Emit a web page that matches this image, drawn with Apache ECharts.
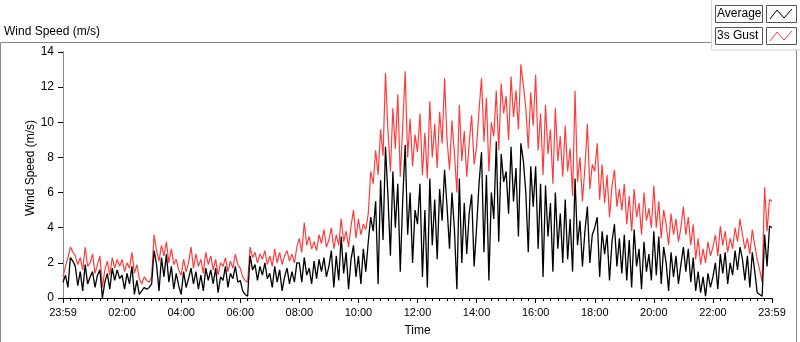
<!DOCTYPE html>
<html>
<head>
<meta charset="utf-8">
<script src="https://cdn.jsdelivr.net/npm/echarts@6/dist/echarts.min.js"></script>
<style>
html, body { margin: 0; padding: 0; background: #fff; }
#main { width: 800px; height: 342px; }
</style>
</head>
<body>
<div id="main"></div>
<script type="text/javascript">
	// minutes between two samples, x runs from 0 (23:59) to 1440 (23:59)
	var timeStep = 5;
	var tickLabels = [ '23:59', '02:00', '04:00', '06:00', '08:00', '10:00', '12:00',
			'14:00', '16:00', '18:00', '20:00', '22:00', '23:59' ];

	// 3s gust, one row per hour
	var gust = [
		1.2, 1.8, 2.3, 2.9, 2.6, 2.4, 1.9, 2.3, 1.6, 2.9, 1.8, 2.0,
		2.5, 1.4, 1.9, 2.4, 0.6, 1.6, 2.1, 1.3, 2.3, 1.7, 2.2, 1.8,
		2.2, 1.5, 2.0, 1.7, 2.6, 1.4, 1.9, 1.1, 0.8, 1.2, 1.0, 0.9,
		1.2, 3.6, 2.7, 2.1, 3.0, 2.4, 3.2, 2.0, 2.8, 1.9, 2.2, 1.6,
		1.3, 2.2, 1.5, 2.0, 2.9, 1.7, 2.5, 1.8, 2.2, 1.4, 2.6, 1.9,
		2.4, 1.6, 2.2, 1.3, 2.0, 1.8, 2.3, 1.5, 2.1, 1.7, 2.5, 1.9,
		1.7, 1.2, 1.0, 0.9, 2.9, 2.3, 2.6, 2.0, 2.5, 2.2, 2.7, 1.9,
		2.4, 1.8, 2.8, 2.0, 2.6, 1.9, 2.4, 2.7, 2.1, 2.5, 2.0, 2.9,
		3.4, 2.6, 4.3, 3.0, 3.5, 2.8, 3.2, 2.7, 3.6, 3.1, 3.9, 2.9,
		3.3, 4.0, 2.8, 3.6, 3.0, 4.5, 3.2, 3.8, 2.9, 4.1, 5.0, 3.4,
		4.5, 3.6, 4.2, 3.9, 4.8, 7.2, 6.5, 8.4, 7.0, 9.6, 8.1, 12.8,
		9.5, 7.2, 10.8, 8.5, 11.6, 6.9, 9.8, 12.9, 8.0, 10.2, 7.5, 9.3,
		8.3, 10.5, 7.0, 9.4, 6.8, 11.2, 8.0, 9.9, 7.4, 10.6, 8.8, 12.5,
		9.0, 7.3, 10.1, 8.2, 6.0, 11.0, 7.8, 9.5, 6.9, 8.8, 10.4, 7.6,
		8.6, 10.7, 12.5, 8.9, 11.4, 7.2, 10.0, 9.2, 11.8, 8.4, 12.2, 10.5,
		11.5, 9.0, 12.6, 10.3, 11.8, 9.6, 13.3, 12.1, 10.8, 8.5, 11.7, 9.8,
		12.7, 8.4, 10.5, 7.0, 11.0, 8.2, 9.6, 6.5, 10.8, 7.8, 9.2, 6.9,
		9.8, 7.2, 8.5, 5.8, 11.8, 6.6, 8.0, 5.5, 7.4, 9.9, 6.2, 7.6,
		7.2, 8.8, 5.6, 7.6, 5.4, 7.0, 4.6, 6.4, 7.3, 5.2, 6.2, 5.0,
		6.5, 4.2, 5.8, 3.8, 6.2, 4.6, 5.4, 3.6, 6.0, 4.4, 5.1, 4.0,
		6.4, 4.0, 5.5, 3.4, 5.0, 4.2, 3.0, 4.8, 3.6, 4.5, 3.2, 4.0,
		5.2, 3.6, 4.6, 3.0, 4.2, 2.2, 3.4, 1.9, 2.8, 2.0, 3.2, 2.4,
		2.9, 3.6, 2.4, 4.1, 3.0, 3.8, 2.6, 3.4, 2.8, 4.0, 3.2, 4.5,
		3.6, 2.8, 3.4, 2.5, 3.9, 3.0, 2.2, 1.6, 0.9, 6.3, 3.8, 5.6,
		5.5
	];

	// average, one row per hour
	var average = [
		0.9, 1.3, 0.6, 2.3, 2.1, 1.8, 0.7, 1.5, 0.4, 1.9, 0.8, 1.2,
		1.5, 0.6, 1.3, 1.6, 0.0, 0.9, 1.4, 0.5, 1.7, 1.0, 1.6, 1.1,
		1.3, 0.5, 1.4, 0.8, 1.8, 0.2, 1.0, 0.2, 0.4, 0.6, 0.5, 0.6,
		0.8, 2.7, 1.9, 0.4, 2.3, 1.2, 2.5, 0.9, 1.8, 0.5, 1.4, 0.7,
		0.2, 1.5, 0.6, 1.1, 1.7, 0.8, 1.5, 0.5, 1.3, 0.4, 1.7, 1.0,
		1.6, 0.8, 1.7, 0.3, 1.2, 1.0, 1.8, 0.6, 1.4, 1.1, 1.8, 0.9,
		1.0, 0.4, 0.2, 0.1, 2.4, 1.6, 1.9, 1.0, 1.8, 1.3, 2.0, 1.1,
		1.4, 0.6, 1.8, 0.9, 1.6, 0.4, 1.2, 1.7, 0.8, 1.5, 0.9, 2.0,
		2.0, 0.9, 2.3, 1.3, 1.7, 0.8, 2.1, 1.1, 2.2, 1.5, 2.3, 1.2,
		1.8, 2.7, 0.6, 2.4, 1.0, 3.5, 1.4, 2.6, 0.5, 2.2, 3.0, 1.2,
		2.4, 0.8, 2.8, 1.5, 3.2, 4.6, 3.8, 5.5, 0.8, 6.7, 3.3, 8.6,
		5.8, 2.4, 7.2, 4.0, 6.5, 1.5, 5.6, 8.7, 3.6, 6.0, 2.0, 5.0,
		4.2, 6.5, 1.2, 5.0, 0.6, 6.8, 3.0, 5.6, 2.2, 6.2, 4.4, 7.3,
		5.2, 2.8, 6.0, 3.9, 0.5, 6.8, 2.0, 5.4, 2.5, 4.8, 5.9, 1.8,
		4.0, 6.5, 8.3, 2.6, 7.0, 1.0, 6.0, 4.5, 8.9, 3.2, 8.2, 6.6,
		7.2, 4.8, 8.6, 5.5, 7.4, 3.5, 8.8, 7.8, 6.0, 2.6, 7.5, 5.2,
		7.5, 2.8, 6.5, 1.2, 6.4, 3.5, 5.4, 1.5, 6.0, 2.8, 4.8, 2.0,
		5.6, 2.2, 4.5, 1.5, 6.8, 3.0, 4.4, 1.8, 3.8, 5.2, 2.0, 3.6,
		4.0, 4.6, 1.2, 3.8, 2.5, 3.6, 1.0, 3.2, 4.2, 1.8, 3.4, 1.4,
		3.6, 1.0, 3.3, 0.6, 3.9, 1.8, 2.8, 0.5, 3.2, 1.5, 2.5, 1.0,
		3.8, 1.3, 3.5, 0.8, 2.9, 2.0, 0.4, 2.6, 1.2, 2.4, 0.8, 1.9,
		2.9, 1.5, 2.8, 0.9, 2.3, 0.4, 1.5, 0.3, 1.2, 0.1, 1.4, 0.6,
		1.2, 2.0, 0.5, 2.5, 1.4, 2.6, 0.8, 2.0, 1.3, 2.7, 1.6, 2.9,
		2.2, 1.0, 2.4, 0.6, 2.6, 1.5, 0.3, 0.2, 0.1, 3.6, 1.8, 4.1,
		4.0
	];

	function toPairs(values) {
		var out = [];
		for (var i = 0; i < values.length; i++) {
			out.push([ i * timeStep, values[i] ]);
		}
		return out;
	}

	var font = 'Liberation Sans, Arial, sans-serif';
	var L = 63, R = 772, T = 52, B = 302;

	// legend box in the top right corner (LabVIEW style)
	function legendItem(y, label, color) {
		return [ {
			type : 'rect',
			shape : { x : 715.5, y : y + 0.5, width : 47, height : 17 },
			style : { fill : '#fff', stroke : '#555', lineWidth : 1 }
		}, {
			type : 'text',
			x : 717, y : y + 9,
			style : { text : label, font : '12px ' + font, fill : '#000', verticalAlign : 'middle' }
		}, {
			type : 'rect',
			shape : { x : 766.5, y : y + 0.5, width : 30, height : 17 },
			style : { fill : '#fff', stroke : '#555', lineWidth : 1 }
		}, {
			type : 'polyline',
			shape : { points : [ [ 770, y + 14 ], [ 777, y + 5 ], [ 784, y + 13 ], [ 792, y + 4 ] ] },
			style : { stroke : color, lineWidth : 1, fill : null }
		} ];
	}

	var graphics = [ {
		type : 'rect',
		shape : { x : 0.5, y : 42.5, width : 796, height : 310 },
		style : { fill : null, stroke : '#888', lineWidth : 1 },
		z : 1
	}, {
		type : 'rect',
		shape : { x : 711.5, y : -1, width : 90, height : 51 },
		style : { fill : '#fff', stroke : '#d4d4d4', lineWidth : 1 },
		z : 2
	}, {
		type : 'text',
		x : 4, y : 32,
		style : { text : 'Wind Speed (m/s)', font : '12px ' + font, fill : '#000', verticalAlign : 'middle' }
	}, {
		type : 'text',
		x : 31, y : 168,
		rotation : Math.PI / 2,
		style : { text : 'Wind Speed (m/s)', font : '12px ' + font, fill : '#000', align : 'center', verticalAlign : 'middle' }
	} ].concat(legendItem(5, 'Average', '#000'), legendItem(27, '3s Gust', '#ff3c3c'));
	graphics.forEach(function(g) { if (g.z == null) g.z = 3; });

	var option = {
		animation : false,
		grid : { left : L, right : 800 - R, top : T, bottom : 342 - B },
		graphic : graphics,
		xAxis : [ {
			type : 'value',
			min : 0, max : 1440, interval : 120,
			name : 'Time',
			nameLocation : 'middle',
			nameGap : 27,
			nameTextStyle : { fontFamily : font, fontSize : 12, color : '#000' },
			axisLine : { lineStyle : { color : '#999', width : 1 } },
			axisTick : { length : 5, lineStyle : { color : '#000' } },
			minorTick : { show : true, splitNumber : 8, length : 3, lineStyle : { color : '#000' } },
			axisLabel : {
				margin : 9,
				fontFamily : font, fontSize : 11, color : '#000',
				showMinLabel : true, showMaxLabel : true,
				formatter : function(v) { return tickLabels[Math.round(v / 120)]; }
			},
			splitLine : { show : false }
		}, {
			type : 'value', position : 'top',
			min : 0, max : 1440,
			axisLine : { show : true, lineStyle : { color : '#000' } },
			axisTick : { show : false }, axisLabel : { show : false }, splitLine : { show : false }
		} ],
		yAxis : [ {
			type : 'value',
			min : 0, max : 14, interval : 2,
			axisLine : { show : true, lineStyle : { color : '#000' } },
			axisTick : { show : true, length : 5, lineStyle : { color : '#000' } },
			axisLabel : { margin : 9, fontFamily : font, fontSize : 12, color : '#000' },
			splitLine : { show : false }
		}, {
			type : 'value', position : 'right',
			min : 0, max : 14,
			axisLine : { show : true, lineStyle : { color : '#888' } },
			axisTick : { show : false }, axisLabel : { show : false }, splitLine : { show : false }
		} ],
		series : [ {
			name : '3s Gust',
			type : 'line',
			data : toPairs(gust),
			showSymbol : false,
			lineStyle : { color : '#ff3c3c', width : 1.2 },
			itemStyle : { color : '#ff3c3c' }
		}, {
			name : 'Average',
			type : 'line',
			data : toPairs(average),
			showSymbol : false,
			lineStyle : { color : '#000', width : 1.3 },
			itemStyle : { color : '#000' }
		} ]
	};

	var chart = echarts.init(document.getElementById('main'));
	chart.setOption(option);
</script>
</body>
</html>
